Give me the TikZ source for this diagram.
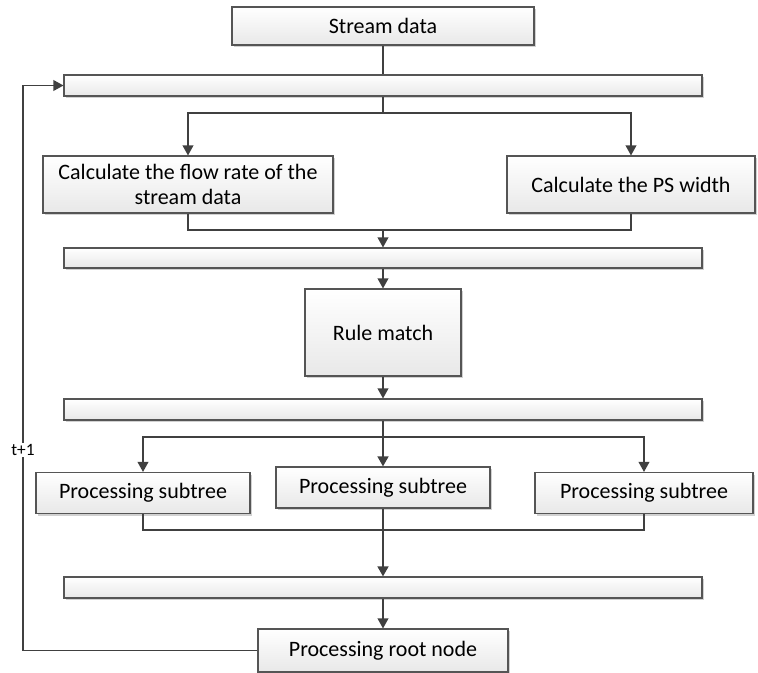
\documentclass[tikz,border=0pt]{standalone}
\usepackage{fontspec}
\setmainfont{Carlito}
\usetikzlibrary{arrows.meta,shadows}
\definecolor{lnc}{HTML}{404040}
\definecolor{bdc}{HTML}{555555}
\tikzset{
  box/.style={draw=bdc, line width=0.8pt, shading=axis, top color=white, bottom color=black!9,
    drop shadow={shadow xshift=1.6pt, shadow yshift=-1.6pt, fill=black!18, opacity=1},
    font=\fontsize{16.5}{19}\selectfont, align=center, inner sep=0pt},
  conn/.style={draw=lnc, line width=1.1pt},
  arr/.style={conn, -{Triangle[width=8pt,length=7.5pt]}},
  thickconn/.style={line width=1.7pt}
}
\newcommand{\pbox}[5]{\node[box, minimum width=#3*0.75pt, minimum height=#4*0.75pt] (#1) at #2 {#5};}
\begin{document}
\begin{tikzpicture}[x=0.75pt,y=-0.75pt]
\useasboundingbox (0,0) rectangle (758,673);
\pbox{sd}{(383,26)}{302}{38}{Stream data}
\pbox{b1}{(383,85.5)}{638}{21}{}
\pbox{fr}{(188,184.5)}{290}{57}{Calculate the flow rate of the\\stream data}
\pbox{ps}{(631,184.5)}{248}{57}{Calculate the PS width}
\pbox{b2}{(383,258)}{638}{20}{}
\pbox{rm}{(383,332.5)}{156}{87}{Rule match}
\pbox{b3}{(383,409.5)}{638}{21}{}
\pbox{s1}{(143,493)}{214}{41}{Processing subtree}
\pbox{s2}{(383,487.5)}{214}{41}{Processing subtree}
\pbox{s3}{(644,493)}{218}{41}{Processing subtree}
\pbox{b4}{(383,587.5)}{638}{21}{}
\pbox{rn}{(383,650.5)}{250}{43}{Processing root node}

\coordinate (j1) at (383,113);
\coordinate (j2) at (383,230);
\coordinate (j3) at (383,437);
\coordinate (j4) at (383,530);
\coordinate (c1) at (23,650.5);
\coordinate (c2) at (23,85.5);

\draw[conn] (sd) -- (b1);
\draw[conn] (b1) -- (j1);
\draw[arr] (j1) -| (fr);
\draw[arr] (j1) -| (ps);
\draw[conn] (fr) |- (j2);
\draw[conn] (ps) |- (j2);
\draw[arr] (j2) -- (b2);
\draw[arr] (b2) -- (rm);
\draw[arr] (rm) -- (b3);
\draw[conn,thickconn] (b3) -- (j3);
\draw[arr] (j3) -| (s1);
\draw[arr,thickconn] (j3) -- (s2);
\draw[arr] (j3) -| (s3);
\draw[conn] (s1) |- (j4);
\draw[conn] (s3) |- (j4);
\draw[arr,thickconn] (s2) -- (b4);
\draw[arr] (b4) -- (rn);
\draw[arr] (rn.west) -- (c1) -- (c2) -- (b1.west);
\node[fill=white, inner sep=1pt, font=\fontsize{13}{15}\selectfont] (t1) at (23,450) {t+1};
\end{tikzpicture}
\end{document}
